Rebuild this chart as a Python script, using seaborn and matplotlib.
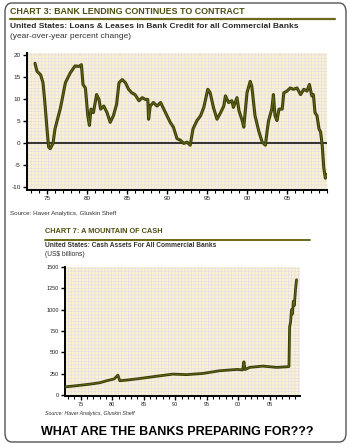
import matplotlib
matplotlib.use("Agg")
import matplotlib.pyplot as plt
from matplotlib.patches import FancyBboxPatch, Rectangle
from matplotlib.lines import Line2D
from matplotlib.ticker import MultipleLocator
import seaborn as sns
import pandas as pd

# --- Chart 3: loans & leases, year-over-year % change ---
lending_year = [1973.5, 1973.75, 1974.2, 1974.5, 1974.7, 1975.0, 1975.2, 1975.4, 1975.75, 1976.0,
                1976.7, 1977.3, 1977.9, 1978.5, 1979.0, 1979.3, 1979.5, 1979.8, 1980.1, 1980.3,
                1980.5, 1980.8, 1981.2, 1981.5, 1981.7, 1982.1, 1982.5, 1982.9, 1983.3, 1983.7,
                1984.0, 1984.4, 1984.8, 1985.2, 1985.6, 1986.0, 1986.5, 1986.9, 1987.3, 1987.6,
                1987.7, 1987.9, 1988.3, 1988.75, 1989.2, 1989.6, 1990.0, 1990.4, 1990.8, 1991.25,
                1991.7, 1992.1, 1992.5, 1992.9, 1993.25, 1993.75, 1994.2, 1994.6, 1995.1, 1995.4,
                1995.8, 1996.25, 1996.7, 1997.1, 1997.3, 1997.7, 1998.1, 1998.3, 1998.75, 1999.0,
                1999.4, 1999.6, 2000.0, 2000.4, 2000.6, 2001.0, 2001.5, 2001.9, 2002.3, 2002.5,
                2002.7, 2003.1, 2003.3, 2003.5, 2003.75, 2004.0, 2004.4, 2004.6, 2005.0, 2005.4,
                2005.8, 2006.25, 2006.7, 2007.1, 2007.5, 2007.8, 2008.1, 2008.3, 2008.5, 2008.75,
                2009.0, 2009.2, 2009.4, 2009.6, 2009.8, 2009.9]
lending_pct = [18.1, 16.3, 15.5, 13.7, 9.9, 3.2, -0.9, -1.3, -0.1, 3.2,
               8.1, 13.7, 15.9, 17.5, 17.4, 17.8, 13.3, 12.5, 6.2, 4.0,
               7.7, 6.9, 11.0, 9.9, 7.7, 8.4, 6.9, 4.7, 6.2, 8.8,
               13.7, 14.4, 13.7, 12.2, 11.4, 11.0, 9.6, 10.3, 9.9, 9.9,
               5.4, 8.4, 9.2, 8.4, 9.2, 7.7, 6.2, 4.7, 3.6, 1.0,
               0.6, -0.1, 0.2, -0.5, 3.2, 5.1, 6.2, 8.1, 12.2, 11.4,
               8.1, 5.4, 6.9, 8.4, 10.7, 9.2, 9.6, 8.1, 10.3, 7.3,
               5.1, 3.6, 11.4, 14.0, 12.9, 6.2, 2.5, 0.2, -0.5, 2.5,
               5.1, 7.7, 11.0, 6.2, 5.1, 7.7, 7.7, 11.4, 11.8, 12.5,
               12.2, 12.5, 11.0, 12.2, 11.8, 13.3, 10.7, 11.0, 6.9, 6.2,
               3.2, 2.5, -0.5, -5.7, -8.0, -7.2]

# --- Chart 7: cash assets, US$ billions ---
cash_year = [1972.5, 1974.0, 1976.4, 1978.0, 1979.1, 1980.3, 1980.9, 1981.2, 1982.5, 1984.4,
             1987.1, 1989.6, 1991.8, 1994.4, 1997.0, 1999.8, 2000.7, 2000.9, 2001.1, 2001.8,
             2003.9, 2006.1, 2007.7, 2008.05, 2008.15, 2008.3, 2008.45, 2008.6, 2008.75, 2008.9,
             2009.1, 2009.25]
cash_bn = [97, 108, 128, 145, 168, 190, 234, 168, 178, 195,
           222, 246, 240, 254, 285, 301, 295, 390, 300, 325,
           340, 325, 332, 335, 800, 850, 1000, 950, 1100, 1050,
           1250, 1350]

lending_ticks = [20, 15, 10, 5, 0, -5, -10]
cash_ticks = [0, 250, 500, 750, 1000, 1250, 1500]
year_ticks = [1975, 1980, 1985, 1990, 1995, 2000, 2005]
year_labels = ["75", "80", "85", "90", "95", "00", "05"]

lending = pd.DataFrame({"year": lending_year, "pct": lending_pct})
cash = pd.DataFrame({"year": cash_year, "bn": cash_bn})

sns.set_theme(style="ticks")
plt.rcParams["font.family"] = ["Liberation Sans", "DejaVu Sans"]
plt.rcParams["hatch.linewidth"] = 0.45

W, H = 350, 447
fig = plt.figure(figsize=(W / 100, H / 100), dpi=100)
fig.patch.set_facecolor("white")

OLIVE = "#4f4e12"
LINE_DARK = "#3a3a08"
LINE_LIGHT = "#5f6d14"
BG = "#f9f3d2"
HATCH = "#e7dce4"


def px_axes(left, top, right, bottom):
    return fig.add_axes([left / W, 1 - bottom / H, (right - left) / W, (bottom - top) / H])


def fx(x):
    return x / W


def fy(y):
    return 1 - y / H


def style_axes(ax, labelsize):
    ax.set_facecolor(BG)
    ax.add_patch(Rectangle((0, 0), 1, 1, transform=ax.transAxes, facecolor="none",
                           edgecolor=HATCH, hatch="+++++", linewidth=0, zorder=0))
    for s in ("top", "right"):
        ax.spines[s].set_visible(False)
    for s in ("left", "bottom"):
        ax.spines[s].set_linewidth(1.4)
        ax.spines[s].set_color("black")
    ax.tick_params(axis="both", which="major", length=3, width=1.0, labelsize=labelsize,
                   pad=1.5, colors="black", labelcolor="#222222")
    ax.tick_params(axis="x", which="minor", length=2.2, width=0.8, colors="black")
    ax.set_xticks(year_ticks)
    ax.set_xticklabels(year_labels)
    ax.xaxis.set_minor_locator(MultipleLocator(1))


# Outer rounded frame
frame = FancyBboxPatch((fx(5), fy(442)), fx(341), 439 / H,
                       boxstyle="round,pad=0,rounding_size=0.02",
                       transform=fig.transFigure, facecolor="none",
                       edgecolor="#555555", linewidth=1.0)
fig.patches.append(frame)

# ---------- Chart 3 ----------
fig.text(fx(10), fy(11), "CHART 3: BANK LENDING CONTINUES TO CONTRACT", fontsize=6.4,
         fontweight="bold", color=OLIVE, va="center", ha="left")
fig.add_artist(Line2D([fx(10), fx(335)], [fy(19), fy(19)], transform=fig.transFigure,
                      color="#6a6a18", linewidth=1.6))
fig.text(fx(10), fy(26), "United States: Loans & Leases in Bank Credit for all Commercial Banks",
         fontsize=6.0, fontweight="bold", color="#2a2a2a", va="center", ha="left")
fig.text(fx(10), fy(37), "(year-over-year percent change)", fontsize=6.0,
         color="#333333", va="center", ha="left")

ax1 = px_axes(27, 53, 327, 190)
style_axes(ax1, 4.6)
ax1.axhline(0, color="black", linewidth=1.1, zorder=2)
sns.lineplot(data=lending, x="year", y="pct", ax=ax1, color=LINE_DARK, linewidth=2.2,
             estimator=None, sort=False, zorder=3)
sns.lineplot(data=lending, x="year", y="pct", ax=ax1, color=LINE_LIGHT, linewidth=0.7,
             estimator=None, sort=False, zorder=4)
ax1.set_xlim(1972.5, 2010.0)
ax1.set_ylim(-10.68, 20.45)
ax1.set_yticks(lending_ticks)
ax1.set_yticklabels([str(v) for v in lending_ticks])
ax1.set_xlabel("")
ax1.set_ylabel("")

fig.text(fx(10), fy(214), "Source: Haver Analytics, Gluskin Sheff", fontsize=4.5,
         color="#333333", va="center", ha="left")

# ---------- Chart 7 ----------
fig.text(fx(45), fy(232), "CHART 7: A MOUNTAIN OF CASH", fontsize=5.3,
         fontweight="bold", color=OLIVE, va="center", ha="left")
fig.add_artist(Line2D([fx(45), fx(310)], [fy(240), fy(240)], transform=fig.transFigure,
                      color="#6a6a18", linewidth=1.4))
fig.text(fx(45), fy(245.5), "United States: Cash Assets For All Commercial Banks",
         fontsize=4.75, fontweight="bold", color="#333333", va="center", ha="left")
fig.text(fx(45), fy(254.5), "(US$ billions)", fontsize=4.8,
         color="#333333", va="center", ha="left")

ax2 = px_axes(65, 267, 300, 396)
style_axes(ax2, 4.0)
sns.lineplot(data=cash, x="year", y="bn", ax=ax2, color=LINE_DARK, linewidth=2.0,
             estimator=None, sort=False, zorder=3)
sns.lineplot(data=cash, x="year", y="bn", ax=ax2, color=LINE_LIGHT, linewidth=0.6,
             estimator=None, sort=False, zorder=4)
ax2.set_xlim(1972.5, 2009.8)
ax2.set_ylim(-10, 1500)
ax2.set_yticks(cash_ticks)
ax2.set_yticklabels([str(v) for v in cash_ticks])
ax2.set_xlabel("")
ax2.set_ylabel("")

fig.text(fx(45), fy(414), "Source: Haver Analytics, Gluskin Sheff", fontsize=3.8,
         style="italic", color="#333333", va="center", ha="left")

fig.text(fx(177), fy(432), "WHAT ARE THE BANKS PREPARING FOR???", fontsize=9.0,
         fontweight="bold", color="black", va="center", ha="center")

fig.savefig("out.png", dpi=100)
